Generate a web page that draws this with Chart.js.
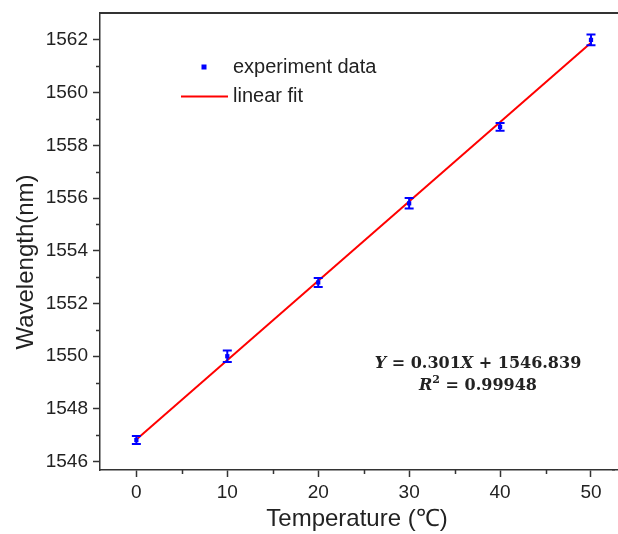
<!DOCTYPE html>
<html>
<head>
<meta charset="utf-8">
<script src="https://cdn.jsdelivr.net/npm/chart.js@4"></script>
<style>
html,body{margin:0;padding:0;background:#fff;overflow:hidden;}
#wrap{width:618px;height:534px;position:relative;}
</style>
</head>
<body>
<div id="wrap"><canvas id="c" width="618" height="534"></canvas></div>
<script>
// ---- data ----
const temps = [0, 10, 20, 30, 40, 50];
const wavelengths = [1546.82, 1550.0, 1552.8, 1555.8, 1558.7, 1562.0];
const errors = [0.15, 0.22, 0.17, 0.2, 0.15, 0.2];
const fitX = [0, 50];
const fitY = [1546.839, 1561.889];
const xTicks = [0, 10, 20, 30, 40, 50];
const xMinorTicks = [5, 15, 25, 35, 45];
const yTicks = [1546, 1548, 1550, 1552, 1554, 1556, 1558, 1560, 1562];
const yMinorTicks = [1547, 1549, 1551, 1553, 1555, 1557, 1559, 1561];
const seriesLabels = ['experiment data', 'linear fit'];
const xTitle = 'Temperature (\u2103)';
const yTitle = 'Wavelength(nm)';
const equationLine1 = [['Y', true], [' = 0.301', false], ['X', true], [' + 1546.839', false]];
const equationLine2 = [['R', true], ['2', 'sup'], [' = 0.99948', false]];

const SANS = '"Liberation Sans", Arial, sans-serif';
const SERIF = '"DejaVu Serif", serif';
const BLUE = '#0000ff';
const RED = '#ff0000';
const AXIS = '#333333';
const TEXT = '#222222';

const decorPlugin = {
  id: 'decor',
  afterDatasetsDraw(chart) {
    const ctx = chart.ctx;
    const xs = chart.scales.x, ys = chart.scales.y;
    // error bars
    ctx.save();
    ctx.strokeStyle = BLUE;
    ctx.lineWidth = 2;
    temps.forEach((t, i) => {
      const px = xs.getPixelForValue(t);
      const top = ys.getPixelForValue(wavelengths[i] + errors[i]);
      const bot = ys.getPixelForValue(wavelengths[i] - errors[i]);
      ctx.beginPath();
      ctx.moveTo(px, top); ctx.lineTo(px, bot);
      ctx.moveTo(px - 4.5, top); ctx.lineTo(px + 4.5, top);
      ctx.moveTo(px - 4.5, bot); ctx.lineTo(px + 4.5, bot);
      ctx.stroke();
    });
    ctx.restore();
  },
  afterDraw(chart) {
    const ctx = chart.ctx;
    const ca = chart.chartArea;
    const xs = chart.scales.x, ys = chart.scales.y;
    ctx.save();
    // top frame line (runs past the right edge like the cropped original)
    ctx.strokeStyle = AXIS;
    ctx.lineWidth = 2;
    ctx.beginPath();
    ctx.moveTo(ca.left - 1, ca.top); ctx.lineTo(chart.width, ca.top);
    ctx.stroke();
    // bottom axis continues to the edge
    ctx.lineWidth = 1.5;
    const by = Math.round(ca.bottom - 0.75) + 0.75;
    ctx.beginPath();
    ctx.moveTo(ca.right - 2, by); ctx.lineTo(chart.width, by);
    ctx.stroke();
    // minor ticks
    ctx.beginPath();
    xMinorTicks.forEach(v => {
      const px = Math.round(xs.getPixelForValue(v)) + 0.5;
      ctx.moveTo(px, ca.bottom); ctx.lineTo(px, ca.bottom + 4);
    });
    yMinorTicks.forEach(v => {
      const py = Math.round(ys.getPixelForValue(v)) + 0.5;
      ctx.moveTo(ca.left, py); ctx.lineTo(ca.left - 4, py);
    });
    ctx.stroke();
    // y title
    ctx.fillStyle = TEXT;
    ctx.font = '24px ' + SANS;
    ctx.textAlign = 'center';
    ctx.textBaseline = 'middle';
    ctx.save();
    ctx.translate(26, 262);
    ctx.rotate(-Math.PI / 2);
    ctx.fillText(yTitle, 0, 0);
    ctx.restore();
    // legend
    const lx = ca.left;
    ctx.fillStyle = BLUE;
    ctx.fillRect(lx + 101.5, 64.5, 5, 5);
    ctx.strokeStyle = RED;
    ctx.lineWidth = 2;
    ctx.beginPath();
    ctx.moveTo(lx + 81, 96.5); ctx.lineTo(lx + 128, 96.5);
    ctx.stroke();
    ctx.fillStyle = TEXT;
    ctx.font = '20px ' + SANS;
    ctx.textAlign = 'left';
    ctx.textBaseline = 'middle';
    ctx.fillText(seriesLabels[0], lx + 133, 67);
    ctx.fillText(seriesLabels[1], lx + 133, 96);
    // equation
    const drawEq = (parts, cx, cy) => {
      const fontFor = (p) => p[1] === 'sup' ? 'bold 11px ' + SERIF : (p[1] ? 'italic bold 16px ' + SERIF : 'bold 16px ' + SERIF);
      let total = 0;
      parts.forEach(p => { ctx.font = fontFor(p); total += ctx.measureText(p[0]).width; });
      let x = cx - total / 2;
      ctx.textAlign = 'left';
      ctx.textBaseline = 'alphabetic';
      parts.forEach(p => {
        ctx.font = fontFor(p);
        ctx.fillText(p[0], x, p[1] === 'sup' ? cy - 7 : cy);
        x += ctx.measureText(p[0]).width;
      });
    };
    ctx.fillStyle = TEXT;
    drawEq(equationLine1, 478, 368);
    drawEq(equationLine2, 478, 390);
    ctx.restore();
  }
};

const zeroPad = s => { s.paddingLeft = 0; s.paddingRight = 0; s.paddingTop = 0; s.paddingBottom = 0; };

new Chart(document.getElementById('c'), {
  type: 'scatter',
  data: {
    datasets: [
      {
        label: seriesLabels[1],
        type: 'line',
        data: fitX.map((x, i) => ({ x: x, y: fitY[i] })),
        borderColor: RED,
        borderWidth: 2,
        pointRadius: 0,
        fill: false,
        tension: 0,
        order: 2
      },
      {
        label: seriesLabels[0],
        data: temps.map((t, i) => ({ x: t, y: wavelengths[i] })),
        backgroundColor: BLUE,
        borderColor: BLUE,
        pointStyle: 'rect',
        pointRadius: 3,
        borderWidth: 0,
        order: 1
      }
    ]
  },
  options: {
    responsive: false,
    animation: false,
    events: [],
    layout: { padding: { top: 13, right: 0, left: 0, bottom: 0 } },
    plugins: { legend: { display: false }, tooltip: { enabled: false } },
    scales: {
      x: {
        type: 'linear',
        min: -4,
        max: 52.53,
        afterBuildTicks: s => { s.ticks = xTicks.map(v => ({ value: v })); },
        afterFit: s => { s.height = 64; zeroPad(s); },
        grid: { display: true, drawOnChartArea: false, drawTicks: true, tickLength: 7, tickWidth: 1.5, tickColor: AXIS },
        border: { display: true, color: AXIS, width: 1.5 },
        ticks: { font: { family: SANS, size: 19 }, color: TEXT, padding: 4, maxRotation: 0, callback: v => String(v) },
        title: { display: true, text: xTitle, font: { family: SANS, size: 24 }, color: TEXT, padding: { top: 0, bottom: 0 } }
      },
      y: {
        type: 'linear',
        min: 1545.685,
        max: 1563.02,
        afterBuildTicks: s => { s.ticks = yTicks.map(v => ({ value: v })); },
        afterFit: s => { s.width = 100; zeroPad(s); },
        grid: { display: true, drawOnChartArea: false, drawTicks: true, tickLength: 7, tickWidth: 1.5, tickColor: AXIS },
        border: { display: true, color: AXIS, width: 1.5 },
        ticks: { font: { family: SANS, size: 19 }, color: TEXT, padding: 5, callback: v => String(v) }
      }
    }
  },
  plugins: [decorPlugin]
});
</script>
</body>
</html>
